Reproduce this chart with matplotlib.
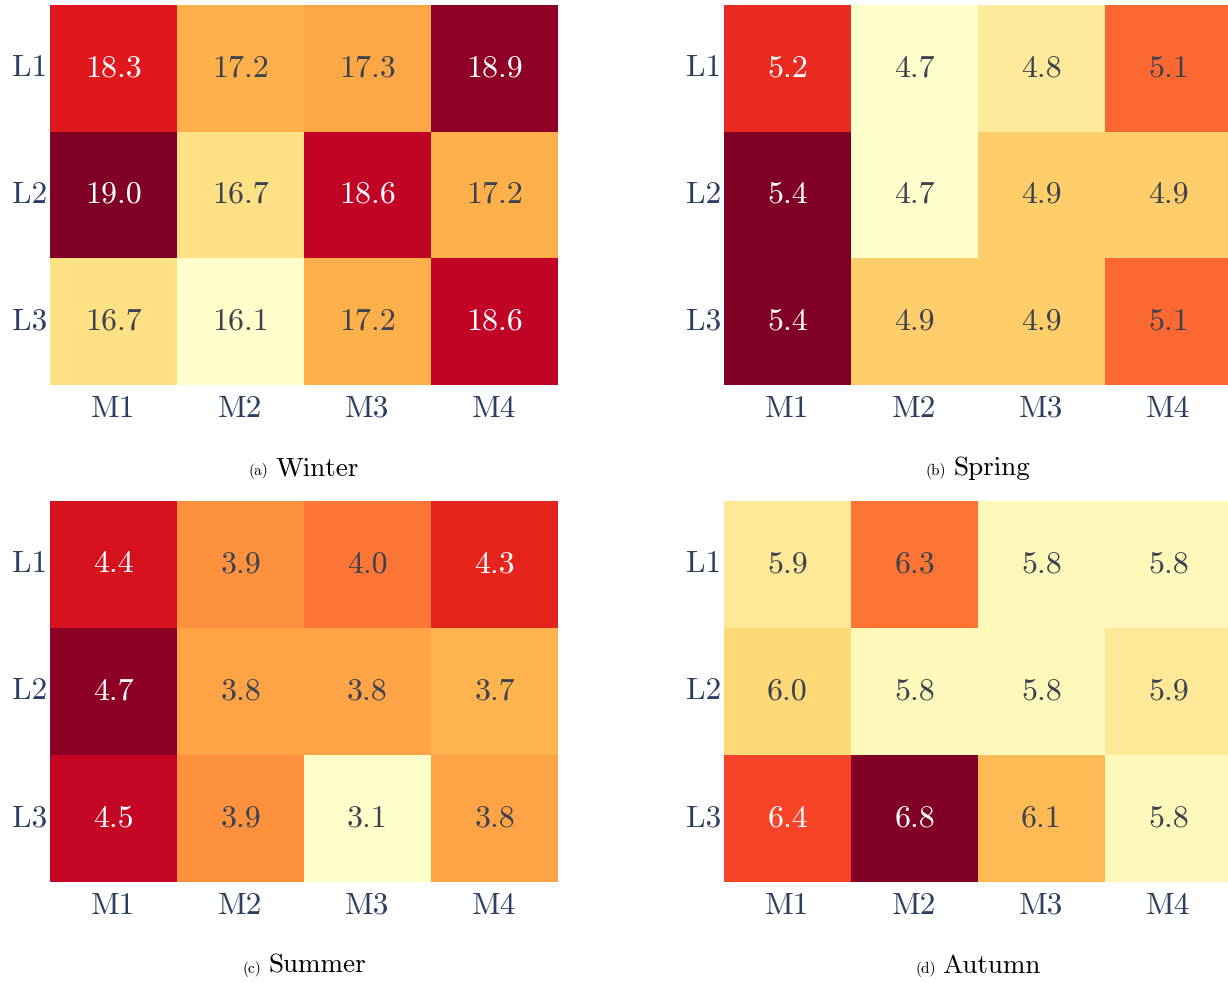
import matplotlib
matplotlib.use("Agg")
import matplotlib.pyplot as plt
import numpy as np
from matplotlib.colors import Normalize
from matplotlib.offsetbox import AnnotationBbox, HPacker, TextArea

plt.rcParams["font.family"] = "serif"
plt.rcParams["font.serif"] = ["cmr10", "DejaVu Serif"]
plt.rcParams["mathtext.fontset"] = "cm"
plt.rcParams["axes.unicode_minus"] = False

rows = ["L1", "L2", "L3"]
cols = ["M1", "M2", "M3", "M4"]

winter = [
    [18.3, 17.2, 17.3, 18.9],
    [19.0, 16.7, 18.6, 17.2],
    [16.7, 16.1, 17.2, 18.6],
]
spring = [
    [5.2, 4.7, 4.8, 5.1],
    [5.4, 4.7, 4.9, 4.9],
    [5.4, 4.9, 4.9, 5.1],
]
summer = [
    [4.4, 3.9, 4.0, 4.3],
    [4.7, 3.8, 3.8, 3.7],
    [4.5, 3.9, 3.1, 3.8],
]
autumn = [
    [5.9, 6.3, 5.8, 5.8],
    [6.0, 5.8, 5.8, 5.9],
    [6.4, 6.8, 6.1, 5.8],
]

# colour range per season (autumn saturates early)
limits = [(16.1, 19.0), (4.7, 5.4), (3.1, 4.75), (5.75, 6.75)]

panels = [
    ("(a)", "Winter", winter),
    ("(b)", "Spring", spring),
    ("(c)", "Summer", summer),
    ("(d)", "Autumn", autumn),
]

W, H = 1228, 983
# left, top, width, height in pixels
boxes = [
    (50, 5, 508, 380),
    (724, 5, 508, 380),
    (50, 501, 508, 381),
    (724, 501, 508, 381),
]

TICK_COLOR = "#2c3f63"
DARK_TEXT = "#3d4250"
cmap = plt.get_cmap("YlOrRd")


def luminance(rgb):
    c = np.asarray(rgb[:3], dtype=float)
    c = np.where(c <= 0.03928, c / 12.92, ((c + 0.055) / 1.055) ** 2.4)
    return 0.2126 * c[0] + 0.7152 * c[1] + 0.0722 * c[2]


fig = plt.figure(figsize=(W / 100, H / 100), dpi=100)

for (tag, name, values), (x0, y0, w, h), (lo, hi) in zip(panels, boxes, limits):
    ax = fig.add_axes([x0 / W, 1 - (y0 + h) / H, w / W, h / H])
    data = np.array(values)
    norm = Normalize(vmin=lo, vmax=hi, clip=True)
    ax.pcolormesh(data, cmap=cmap, norm=norm)
    ax.set_xlim(0, data.shape[1])
    ax.set_ylim(data.shape[0], 0)

    for i in range(data.shape[0]):
        for j in range(data.shape[1]):
            v = data[i, j]
            rgba = cmap(norm(v))
            color = DARK_TEXT if luminance(rgba) > 0.28 else "white"
            ax.text(j + 0.5, i + 0.5, f"{v:.1f}", ha="center", va="center",
                    fontsize=23, color=color)

    ax.set_xticks(np.arange(data.shape[1]) + 0.5)
    ax.set_xticklabels(cols)
    ax.set_yticks(np.arange(data.shape[0]) + 0.5)
    ax.set_yticklabels(rows, rotation=0, va="center")
    ax.tick_params(length=0, labelsize=22.5, labelcolor=TICK_COLOR)
    ax.tick_params(axis="x", pad=7)
    ax.tick_params(axis="y", pad=2)
    for spine in ax.spines.values():
        spine.set_visible(False)

    caption = HPacker(
        children=[
            TextArea(tag, textprops=dict(fontsize=11, color="black")),
            TextArea(name, textprops=dict(fontsize=19.5, color="black")),
        ],
        align="baseline", pad=0, sep=5,
    )
    ab = AnnotationBbox(caption, (0.5, -0.22), xycoords="axes fraction",
                        frameon=False, box_alignment=(0.5, 0.5),
                        annotation_clip=False)
    ax.add_artist(ab)

fig.savefig("out.png", dpi=100)
